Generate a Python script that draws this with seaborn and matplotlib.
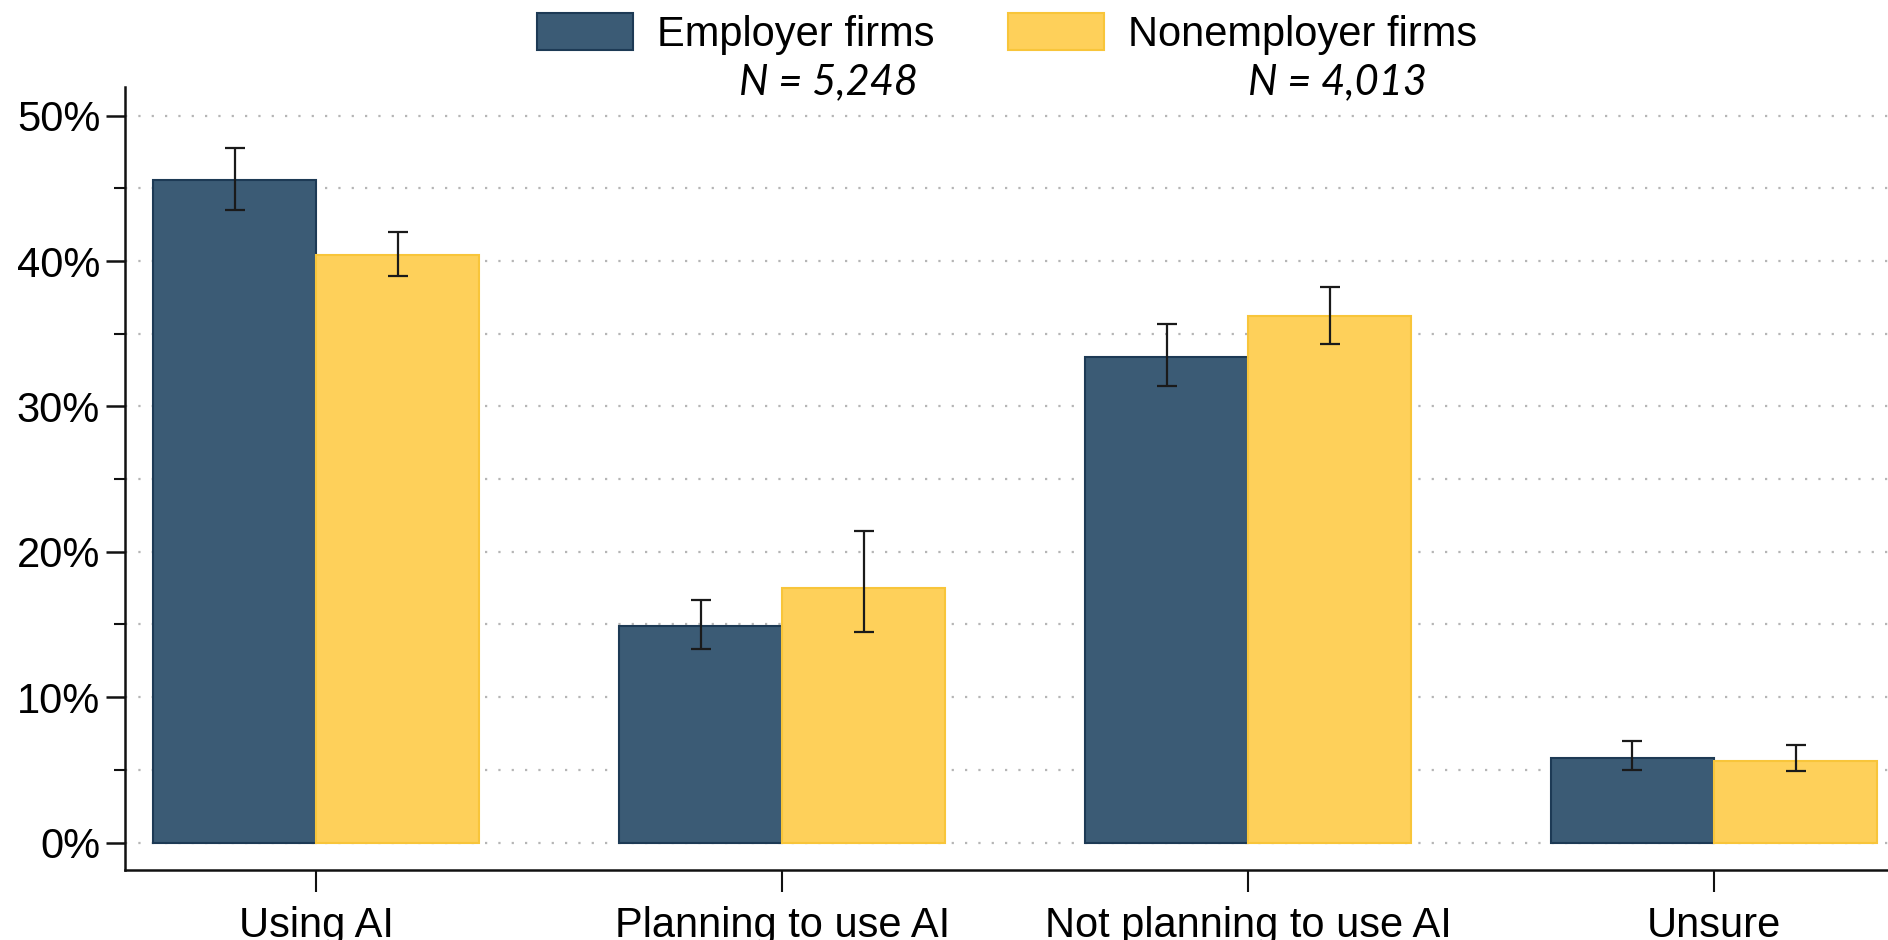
import matplotlib

matplotlib.use("Agg")

import matplotlib.pyplot as plt
import pandas as pd
import seaborn as sns
from matplotlib.patches import Patch
from matplotlib.ticker import FuncFormatter, MultipleLocator

categories = ["Using AI", "Planning to use AI", "Not planning to use AI", "Unsure"]
groups = ["Employer firms", "Nonemployer firms"]
group_n = ["N = 5,248", "N = 4,013"]

employer_pct = [45.6, 14.9, 33.4, 5.8]
employer_low = [43.5, 13.3, 31.4, 5.0]
employer_high = [47.8, 16.7, 35.7, 7.0]

nonemployer_pct = [40.4, 17.5, 36.2, 5.6]
nonemployer_low = [39.0, 14.5, 34.3, 4.9]
nonemployer_high = [42.0, 21.4, 38.2, 6.7]

fill_colors = ["#3b5b75", "#fed05a"]
edge_colors = ["#1d3a55", "#f8c53a"]

frame = pd.DataFrame(
    {
        "status": categories * 2,
        "firm": [groups[0]] * 4 + [groups[1]] * 4,
        "pct": employer_pct + nonemployer_pct,
        "low": employer_low + nonemployer_low,
        "high": employer_high + nonemployer_high,
    }
)

sns.set_theme(style="white")
plt.rcParams["font.family"] = ["Liberation Sans", "DejaVu Sans"]
plt.rcParams["text.color"] = "black"
plt.rcParams["xtick.color"] = "black"
plt.rcParams["ytick.color"] = "black"

fig = plt.figure(figsize=(18.88, 9.40), dpi=100)
ax = fig.add_axes([0.0663, 0.0743, 0.96, 0.8335])

sns.barplot(
    data=frame,
    x="status",
    y="pct",
    hue="firm",
    order=categories,
    hue_order=groups,
    palette=fill_colors,
    width=0.7,
    gap=0,
    errorbar=None,
    saturation=1,
    legend=False,
    ax=ax,
)

# colour the edges and add the confidence intervals on each bar
bar_groups = list(ax.containers)
for idx, container in enumerate(bar_groups):
    sub = frame[frame["firm"] == groups[idx]].set_index("status").loc[categories]
    centers = []
    for bar in container:
        bar.set_edgecolor(edge_colors[idx])
        bar.set_linewidth(1.5)
        bar.set_zorder(2)
        centers.append(bar.get_x() + bar.get_width() / 2)
    ax.errorbar(
        centers,
        sub["pct"],
        yerr=[sub["pct"] - sub["low"], sub["high"] - sub["pct"]],
        fmt="none",
        ecolor="#1a1a1a",
        elinewidth=1.6,
        capsize=7,
        capthick=1.6,
        zorder=3,
    )

ax.set_xlim(-0.41, 3.48)
ax.set_ylim(-1.9, 52)
ax.yaxis.set_major_locator(MultipleLocator(10))
ax.yaxis.set_minor_locator(MultipleLocator(5))
ax.yaxis.set_major_formatter(FuncFormatter(lambda v, _: f"{v:.0f}%"))
ax.grid(axis="y", which="both", linestyle=(0, (1, 5)), linewidth=1.6, color="#b5b5b5")
ax.set_axisbelow(True)

for side in ["top", "right"]:
    ax.spines[side].set_visible(False)
for side in ["left", "bottom"]:
    ax.spines[side].set_color("#111111")
    ax.spines[side].set_linewidth(1.8)

ax.tick_params(axis="y", which="major", direction="out", length=14, width=1.8, color="#111111",
               labelsize=30, pad=4, left=True)
ax.tick_params(axis="y", which="minor", direction="out", length=8, width=1.5, color="#111111", left=True)
ax.tick_params(axis="x", direction="out", length=16, width=1.5, color="#111111",
               labelsize=30, pad=10, bottom=True)
ax.set_xlabel("")
ax.set_ylabel("")

handles = [Patch(facecolor=fill_colors[i], edgecolor=edge_colors[i], linewidth=1.5) for i in range(2)]
fig.legend(
    handles,
    groups,
    loc="center",
    bbox_to_anchor=(0.5335, 0.9635),
    ncol=2,
    frameon=False,
    fontsize=30,
    handlelength=2.3,
    handleheight=0.98,
    handletextpad=0.58,
    columnspacing=1.75,
    borderpad=0,
)

for label, xpos in zip(group_n, [0.439, 0.7086]):
    fig.text(xpos, 0.913, label, ha="center", va="center", fontsize=30, style="italic",
             family=["Lato", "DejaVu Sans"])

fig.savefig("out.png", dpi=100)
